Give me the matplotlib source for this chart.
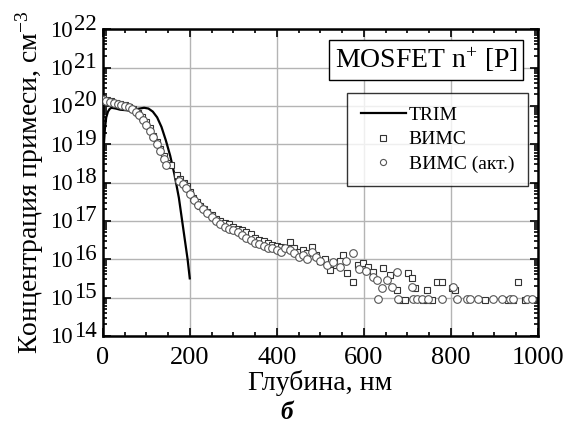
import numpy as np
import matplotlib
matplotlib.use("Agg")
import matplotlib.pyplot as plt
import matplotlib.transforms as mtransforms

plt.rcParams['font.family'] = ['Liberation Serif', 'DejaVu Serif']
plt.rcParams['mathtext.fontset'] = 'custom'
plt.rcParams['mathtext.rm'] = 'Liberation Serif'
plt.rcParams['mathtext.it'] = 'Liberation Serif:italic'
plt.rcParams['mathtext.bf'] = 'Liberation Serif:bold'

# TRIM simulation (depth nm, log10 concentration)
trim_depth = [0, 2, 5, 8, 12, 16, 20, 30, 40, 60, 80, 95, 105, 115, 125, 135,
              145, 155, 165, 175, 185, 195, 200]
trim_log = [18.5, 18.9, 19.4, 19.7, 19.85, 19.92, 19.95, 19.93, 19.9, 19.88,
            19.92, 19.95, 19.93, 19.85, 19.7, 19.45, 19.1, 18.7, 18.2, 17.6,
            16.8, 16.0, 15.5]

# SIMS (squares)
sims_depth = [0, 10, 20, 30, 40, 50, 60, 70, 80, 90, 100, 108, 116, 124, 132,
              140, 148, 158, 170, 178, 186, 193, 200, 208, 216, 224, 232, 240,
              250, 260, 270, 280, 290, 300, 310, 320, 330, 340, 350, 360, 370,
              380, 390, 400, 410, 420, 430, 440, 450, 460, 470, 480, 490, 500,
              510, 522, 535, 545, 552, 561, 575, 586, 598, 610, 621, 644, 660,
              676, 683, 694, 701, 710, 717, 736, 745, 747, 756, 768, 779, 803,
              809, 878, 931, 943, 954, 970]
sims_log = [20.2, 20.15, 20.12, 20.08, 20.05, 20.02, 19.98, 19.92, 19.82, 19.7,
            19.58, 19.42, 19.22, 19.05, 18.88, 18.7, 18.5, 18.45, 18.2, 18.1,
            18.0, 17.92, 17.75, 17.6, 17.5, 17.38, 17.3, 17.22, 17.15, 17.05,
            17.0, 16.95, 16.92, 16.85, 16.8, 16.75, 16.7, 16.65, 16.55, 16.5,
            16.48, 16.42, 16.38, 16.35, 16.33, 16.3, 16.45, 16.28, 16.2, 16.25,
            16.15, 16.32, 16.1, 15.95, 16.0, 15.72, 15.85, 15.95, 16.11, 15.64,
            15.41, 15.85, 15.9, 15.8, 15.67, 15.78, 15.6, 15.2, 14.94, 14.94,
            15.64, 15.51, 15.25, 14.94, 15.2, 14.94, 14.94, 15.41, 15.41, 15.25,
            15.2, 14.94, 14.94, 14.94, 15.41, 14.94]

# SIMS, active (circles)
act_depth = [0, 8, 16, 25, 34, 43, 52, 60, 68, 76, 84, 92, 100, 108, 116, 124,
             132, 140, 146, 176, 184, 192, 200, 210, 220, 230, 240, 250, 260,
             270, 280, 290, 300, 310, 320, 330, 340, 350, 360, 370, 380, 390,
             400, 410, 420, 430, 440, 450, 460, 470, 480, 490, 500, 515, 530,
             545, 560, 575, 590, 605, 621, 630, 632, 641, 653, 664, 676, 678,
             710, 713, 722, 733, 747, 779, 805, 814, 837, 844, 862, 897, 917,
             936, 943, 975, 986]
act_log = [20.15, 20.12, 20.1, 20.07, 20.04, 20.02, 20.0, 19.97, 19.93, 19.85,
           19.75, 19.62, 19.5, 19.35, 19.18, 19.0, 18.82, 18.62, 18.45, 18.05,
           17.95, 17.85, 17.7, 17.55, 17.42, 17.3, 17.2, 17.1, 17.0, 16.92,
           16.85, 16.8, 16.75, 16.7, 16.62, 16.55, 16.5, 16.42, 16.4, 16.35,
           16.3, 16.28, 16.25, 16.2, 16.3, 16.25, 16.15, 16.05, 16.1, 16.0,
           16.2, 16.05, 15.95, 15.85, 15.92, 15.8, 15.95, 16.17, 15.75, 15.7,
           15.54, 15.46, 14.97, 15.25, 15.46, 15.28, 15.67, 14.97, 15.28, 14.97,
           14.97, 14.97, 14.97, 14.97, 15.28, 14.97, 14.97, 14.97, 14.97, 14.97,
           14.97, 14.97, 14.97, 14.97, 14.97]

x_ticks = [0, 200, 400, 600, 800, 1000]
y_exps = list(range(14, 23))

fig = plt.figure(figsize=(5.74, 4.23), dpi=100)
ax = fig.add_axes([0.179, 0.206, 0.758, 0.725])

ax.plot(trim_depth, 10 ** np.array(trim_log), color='black', lw=1.6, label='TRIM', zorder=3)
ax.plot(sims_depth, 10 ** np.array(sims_log), ls='none', marker='s', ms=5,
        mfc='white', mec='#333333', mew=0.8, label='ВИМС', zorder=4)
ax.plot(act_depth, 10 ** np.array(act_log), ls='none', marker='o', ms=5.5,
        mfc='white', mec='#555555', mew=0.8, label='ВИМС (акт.)', zorder=4)

ax.set_yscale('log')
ax.set_xlim(0, 1000)
ax.set_ylim(1e14, 1e22)
ax.set_xticks(x_ticks)
ax.set_xticks(np.arange(0, 1001, 50), minor=True)
ax.set_yticks([10.0 ** k for k in y_exps])
ax.yaxis.set_minor_locator(matplotlib.ticker.LogLocator(base=10, subs=np.arange(2, 10), numticks=20))
ax.yaxis.set_minor_formatter(matplotlib.ticker.NullFormatter())
ax.set_yticklabels([])

# y tick labels: "10" with a full-size raised exponent, as in the original
trans = mtransforms.blended_transform_factory(ax.transAxes, ax.transData)
for k in y_exps:
    ax.annotate(str(k), xy=(0, 10.0 ** k), xycoords=trans, xytext=(-4.3, 3.5),
                textcoords='offset points', ha='right', va='center', fontsize=16.5)
    ax.annotate('10', xy=(0, 10.0 ** k), xycoords=trans, xytext=(-21.5, -1.5),
                textcoords='offset points', ha='right', va='center', fontsize=16.5)

ax.grid(True, which='major', color='#b4b4b4', lw=1.0)
ax.set_axisbelow(True)
ax.tick_params(which='both', direction='in', top=True, right=True, labelsize=19, width=1.2)
ax.tick_params(which='major', length=6)
ax.tick_params(which='minor', length=3)
ax.tick_params(axis='x', pad=8)
for s in ax.spines.values():
    s.set_linewidth(1.8)

ax.set_xlabel('Глубина, нм', fontsize=20, labelpad=1)
ax.set_ylabel('Концентрация примеси, см$^{-3}$', fontsize=20, labelpad=37)

ax.text(0.744, 0.90, 'MOSFET n$^{+}$ [P]', transform=ax.transAxes, fontsize=20,
        ha='center', va='center',
        bbox=dict(boxstyle='square,pad=0.2', fc='white', ec='black', lw=1.0))

leg = ax.legend(loc='upper right', bbox_to_anchor=(0.977, 0.792), fontsize=14,
                frameon=True, fancybox=False, edgecolor='black', borderaxespad=0,
                handlelength=2.3, labelspacing=0.34, handletextpad=0.15,
                borderpad=0.7, markerscale=0.8)
leg.get_frame().set_linewidth(1.0)

fig.text(0.5, 0.026, 'б', fontsize=18, fontweight='bold', fontstyle='italic',
         ha='center', va='center')

fig.savefig('out.png', dpi=100)
